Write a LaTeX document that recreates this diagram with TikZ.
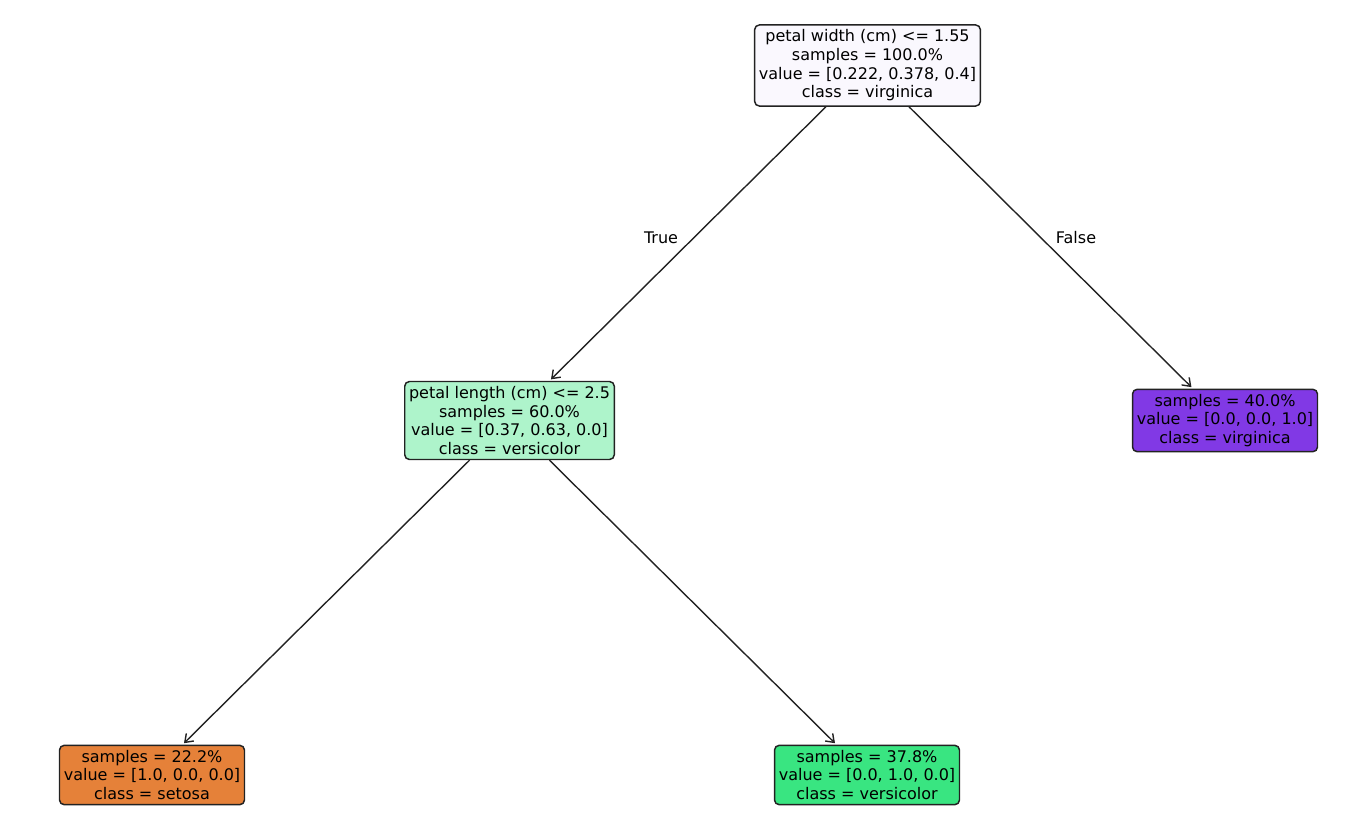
\documentclass[tikz,border=0pt]{standalone}
\usepackage{fontspec}
\setmainfont{DejaVu Sans}
\usetikzlibrary{arrows.meta}
\definecolor{rootc}{RGB}{250,248,254}
\definecolor{leftc}{RGB}{174,244,203}
\definecolor{virg}{RGB}{129,57,229}
\definecolor{seto}{RGB}{229,129,57}
\definecolor{vers}{RGB}{57,229,129}
\definecolor{edgec}{RGB}{34,34,34}
\tikzset{
  treenode/.style={draw=edgec, line width=1.1pt, rounded corners=3.5pt, align=center,
    inner xsep=3.2pt, inner ysep=3.6pt, font=\fontsize{12}{14}\selectfont, text=black},
  treeedge/.style={draw=edgec, line width=1.05pt, -{Straight Barb[length=5.5pt,width=8pt,line width=1.05pt]}, shorten >=1.5pt},
  edgelabel/.style={font=\fontsize{12}{14}\selectfont, text=black}
}
\begin{document}
\begin{tikzpicture}[x=0.75pt,y=-0.75pt]
\useasboundingbox (0,0) rectangle (1370,839);
\node[treenode, fill=rootc] (root) at (867.5,65.5) {petal width (cm) <= 1.55\\samples = 100.0\%\\value = [0.222, 0.378, 0.4]\\class = virginica};
\node[treenode, fill=leftc] (left) at (509.5,420.5) {petal length (cm) <= 2.5\\samples = 60.0\%\\value = [0.37, 0.63, 0.0]\\class = versicolor};
\node[treenode, fill=virg] (right) at (1225,420.5) {samples = 40.0\%\\value = [0.0, 0.0, 1.0]\\class = virginica};
\node[treenode, fill=seto] (setosa) at (152,775) {samples = 22.2\%\\value = [1.0, 0.0, 0.0]\\class = setosa};
\node[treenode, fill=vers] (versi) at (867,775) {samples = 37.8\%\\value = [0.0, 1.0, 0.0]\\class = versicolor};
\draw[treeedge] (root) -- (left);
\draw[treeedge] (root) -- (right);
\draw[treeedge] (left) -- (setosa);
\draw[treeedge] (left) -- (versi);
\node[edgelabel] (truelab) at (661,238) {True};
\node[edgelabel] (falselab) at (1076,238) {False};
\end{tikzpicture}
\end{document}
